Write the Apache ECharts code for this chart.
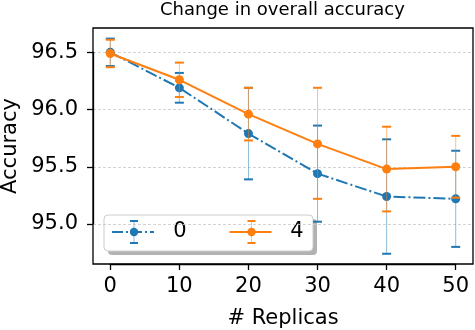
<!DOCTYPE html>
<html>
<head>
<meta charset="utf-8">
<script src="https://cdn.jsdelivr.net/npm/echarts@6/dist/echarts.min.js"></script>
<style>
  html, body { margin: 0; padding: 0; background: #fff; }
  #chart { width: 475px; height: 330px; }
</style>
</head>
<body>
<div id="chart"></div>
<script>
// data
var replicas = [0, 10, 20, 30, 40, 50];

var mean0 = [96.50, 96.19, 95.79, 95.44, 95.24, 95.22];
var low0 = [96.38, 96.06, 95.39, 95.02, 94.74, 94.80];
var high0 = [96.62, 96.32, 96.19, 95.86, 95.74, 95.64];

var mean4 = [96.49, 96.26, 95.96, 95.70, 95.48, 95.50];
var low4 = [96.37, 96.11, 95.73, 95.22, 95.11, 95.23];
var high4 = [96.61, 96.41, 96.19, 96.19, 95.85, 95.77];

var yTicks = [95.0, 95.5, 96.0, 96.5];
var xTicks = [0, 10, 20, 30, 40, 50];

var FONT = 'DejaVu Sans';
var BLUE = '#1f77b4';
var ORANGE = '#ff7f0e';

// plot box
var plotLeft = 93, plotRight = 473, plotTop = 28, plotBottom = 264;
var xMin = -2.5, xMax = 52.5;
var yMin = 94.6505, yMax = 96.7126;

function xPix(v) { return plotLeft + (v - xMin) / (xMax - xMin) * (plotRight - plotLeft); }
function yPix(v) { return plotTop + (yMax - v) / (yMax - yMin) * (plotBottom - plotTop); }

function pairs(ys) {
  return replicas.map(function (x, i) { return [x, ys[i]]; });
}
function bars(lo, hi) {
  return replicas.map(function (x, i) { return [x, lo[i], hi[i]]; });
}

function errRender(color) {
  return function (params, api) {
    var x = api.value(0);
    var pLo = api.coord([x, api.value(1)]);
    var pHi = api.coord([x, api.value(2)]);
    var w = 4.5;
    return {
      type: 'group',
      children: [
        { type: 'line', shape: { x1: pLo[0], y1: pLo[1], x2: pHi[0], y2: pHi[1] },
          style: { stroke: color, lineWidth: 1, opacity: 0.5 } },
        { type: 'line', shape: { x1: pHi[0] - w, y1: pHi[1], x2: pHi[0] + w, y2: pHi[1] },
          style: { stroke: color, lineWidth: 2 } },
        { type: 'line', shape: { x1: pLo[0] - w, y1: pLo[1], x2: pLo[0] + w, y2: pLo[1] },
          style: { stroke: color, lineWidth: 2 } }
      ]
    };
  };
}

function legendEntry(cx, color, dash, label, tx) {
  var cy = 232;
  return [
    { type: 'line', shape: { x1: cx - 22, y1: cy, x2: cx + 20, y2: cy },
      style: { stroke: color, lineWidth: 2, lineDash: dash } },
    { type: 'line', shape: { x1: cx, y1: cy - 11, x2: cx, y2: cy + 11 },
      style: { stroke: color, lineWidth: 1, opacity: 0.5 } },
    { type: 'line', shape: { x1: cx - 4, y1: cy - 11, x2: cx + 4, y2: cy - 11 },
      style: { stroke: color, lineWidth: 2 } },
    { type: 'line', shape: { x1: cx - 4, y1: cy + 11, x2: cx + 4, y2: cy + 11 },
      style: { stroke: color, lineWidth: 2 } },
    { type: 'circle', shape: { cx: cx, cy: cy, r: 4.2 }, style: { fill: color } },
    { type: 'text', x: tx, y: cy,
      style: { text: label, fill: '#000', font: '21px "DejaVu Sans"', align: 'center', verticalAlign: 'middle' } }
  ];
}

var chart = echarts.init(document.getElementById('chart'), null, { renderer: 'canvas' });

var option = {
  animation: false,
  backgroundColor: '#fff',
  textStyle: { fontFamily: FONT },
  title: {
    text: 'Change in overall accuracy',
    left: 160,
    top: 1,
    padding: 0,
    textStyle: { fontFamily: FONT, fontSize: 18, fontWeight: 'normal', color: '#000' }
  },
  grid: [
    { left: plotLeft, right: 475 - plotRight, top: plotTop, bottom: 330 - plotBottom,
      outerBoundsMode: 'none', containLabel: false,
      show: true, borderColor: '#000', borderWidth: 1.3, backgroundColor: 'transparent' },
    { left: xPix(0), right: 475 - xPix(50), top: plotTop, bottom: 330 - plotBottom,
      outerBoundsMode: 'none', containLabel: false },
    { left: plotLeft, right: 475 - plotRight, top: yPix(96.5), bottom: 330 - yPix(95.0),
      outerBoundsMode: 'none', containLabel: false }
  ],
  xAxis: [
    { gridIndex: 0, type: 'value', min: xMin, max: xMax,
      axisLine: { show: false }, axisTick: { show: false }, axisLabel: { show: false },
      splitLine: { show: false },
      name: '# Replicas', nameLocation: 'middle', nameGap: 44,
      nameTextStyle: { fontFamily: FONT, fontSize: 21, color: '#000' } },
    { gridIndex: 1, type: 'value', min: xTicks[0], max: xTicks[xTicks.length - 1], interval: 10,
      axisLine: { show: true, onZero: false, lineStyle: { color: '#000', width: 1.3 } },
      axisTick: { show: true, inside: false, length: 6, lineStyle: { color: '#000', width: 1.3 } },
      axisLabel: { margin: 12, fontFamily: FONT, fontSize: 21, color: '#000' },
      splitLine: { show: false } },
    { gridIndex: 2, type: 'value', min: xMin, max: xMax, show: false }
  ],
  yAxis: [
    { gridIndex: 0, type: 'value', min: yMin, max: yMax,
      axisLine: { show: false, onZero: false }, axisTick: { show: false }, axisLabel: { show: false },
      splitLine: { show: false },
      name: 'Accuracy', nameLocation: 'middle', nameGap: 72, nameRotate: 90,
      nameTextStyle: { fontFamily: FONT, fontSize: 21, color: '#000' } },
    { gridIndex: 1, type: 'value', min: yMin, max: yMax, show: false },
    { gridIndex: 2, type: 'value', min: yTicks[0], max: yTicks[yTicks.length - 1], interval: 0.5,
      axisLine: { show: true, onZero: false, lineStyle: { color: '#000', width: 1.3 } },
      axisTick: { show: true, inside: false, length: 6, lineStyle: { color: '#000', width: 1.3 } },
      axisLabel: { margin: 15, fontFamily: FONT, fontSize: 21, color: '#000',
        formatter: function (v) { return v.toFixed(1); } },
      splitLine: { show: true, lineStyle: { color: '#c8c8c8', width: 0.8, type: [3, 2] } } }
  ],
  series: [
    { name: '0 err', type: 'custom', xAxisIndex: 0, yAxisIndex: 0, z: 2,
      renderItem: errRender(BLUE), encode: { x: 0, y: [1, 2] }, data: bars(low0, high0), clip: false },
    { name: '0', type: 'line', xAxisIndex: 0, yAxisIndex: 0, z: 3,
      data: pairs(mean0), symbol: 'circle', symbolSize: 9,
      itemStyle: { color: BLUE },
      lineStyle: { color: BLUE, width: 2, type: [12, 3, 2, 3] } },
    { name: '4 err', type: 'custom', xAxisIndex: 0, yAxisIndex: 0, z: 4,
      renderItem: errRender(ORANGE), encode: { x: 0, y: [1, 2] }, data: bars(low4, high4), clip: false },
    { name: '4', type: 'line', xAxisIndex: 0, yAxisIndex: 0, z: 5,
      data: pairs(mean4), symbol: 'circle', symbolSize: 9,
      itemStyle: { color: ORANGE },
      lineStyle: { color: ORANGE, width: 2 } }
  ],
  graphic: {
    elements: [
      { type: 'group', z: 100, children: [
        { type: 'rect', shape: { x: 108, y: 219, width: 209, height: 36, r: 4 },
          style: { fill: 'rgba(0,0,0,0.3)' } },
        { type: 'rect', shape: { x: 104, y: 215, width: 209, height: 36, r: 4 },
          style: { fill: '#fff', stroke: '#cccccc', lineWidth: 1 } }
      ].concat(legendEntry(134, BLUE, [11, 3, 2, 3], '0', 180))
       .concat(legendEntry(251.5, ORANGE, null, '4', 297)) }
    ]
  }
};

chart.setOption(option);
</script>
</body>
</html>
